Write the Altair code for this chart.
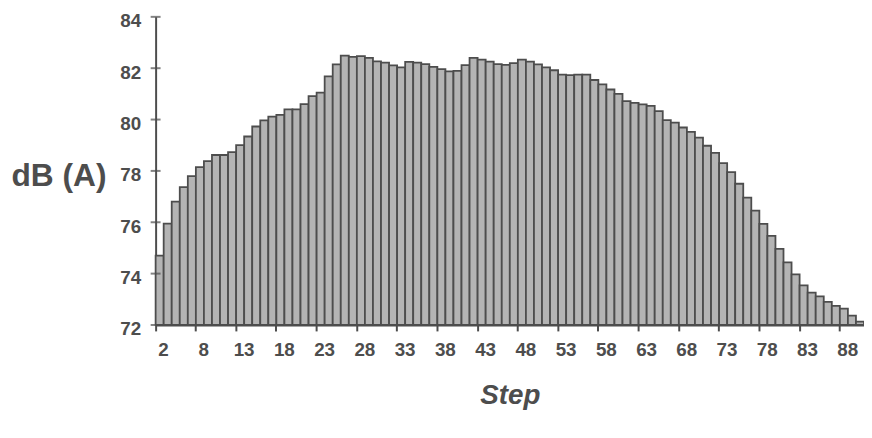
import altair as alt
import pandas as pd

# Step categories (category axis, one bar per step)
steps = [2, 3, 4, 5, 6, 8, 9, 10, 11, 12, 13, 14, 15, 16, 17, 18, 19, 20, 21, 22,
         23, 24, 25, 26, 27, 28, 29, 30, 31, 32, 33, 34, 35, 36, 37, 38, 39, 40, 41, 42,
         43, 44, 45, 46, 47, 48, 49, 50, 51, 52, 53, 54, 55, 56, 57, 58, 59, 60, 61, 62,
         63, 64, 65, 66, 67, 68, 69, 70, 71, 72, 73, 74, 75, 76, 77, 78, 79, 80, 81, 82,
         83, 84, 85, 86, 87, 88, 89, 90]

# Sound level dB(A)
db_values = [74.70, 75.95, 76.80, 77.37, 77.80, 78.15, 78.38, 78.62, 78.62, 78.73,
             79.00, 79.34, 79.73, 79.97, 80.11, 80.18, 80.40, 80.40, 80.60, 80.91,
             81.05, 81.68, 82.15, 82.49, 82.44, 82.47, 82.40, 82.27, 82.22, 82.11,
             82.03, 82.25, 82.22, 82.16, 82.05, 81.96, 81.88, 81.90, 82.12, 82.40,
             82.33, 82.26, 82.16, 82.13, 82.20, 82.33, 82.26, 82.15, 82.03, 81.92,
             81.75, 81.73, 81.75, 81.75, 81.54, 81.37, 81.17, 81.00, 80.72, 80.65,
             80.59, 80.53, 80.33, 79.98, 79.88, 79.69, 79.52, 79.30, 78.98, 78.70,
             78.30, 77.95, 77.50, 76.96, 76.45, 75.94, 75.47, 74.96, 74.44, 73.97,
             73.54, 73.26, 73.11, 72.90, 72.74, 72.64, 72.36, 72.13]

x_tick_labels = [2, 8, 13, 18, 23, 28, 33, 38, 43, 48, 53, 58, 63, 68, 73, 78, 83, 88]
y_ticks = [72, 74, 76, 78, 80, 82, 84]

df = pd.DataFrame({"step": steps, "db": db_values})
ticks_df = pd.DataFrame({"db": y_ticks})

ink = "#4d4d4d"
font = "Liberation Sans"

y_scale = alt.Scale(domain=[72, 84], nice=False, zero=False, clamp=True)

bars = alt.Chart(df).mark_bar(
    fill="#b4b4b4", stroke=ink, strokeWidth=1.8
).encode(
    x=alt.X(
        "step:O", sort=None,
        scale=alt.Scale(paddingInner=0, paddingOuter=0),
        axis=alt.Axis(
            values=x_tick_labels, bandPosition=0, labelOffset=4, labelAngle=0,
            tickSize=6, tickWidth=2, tickColor=ink,
            labelPadding=10, labelFontSize=19,
            title="Step", titleFontSize=28, titleFontStyle="italic",
            titlePadding=22,
        ),
    ),
    y=alt.Y(
        "db:Q", scale=y_scale,
        axis=alt.Axis(
            values=y_ticks, ticks=False, tickSize=0, labelPadding=15,
            labelFontSize=19, labelOffset=4,
            title="dB (A)", titleAngle=0, titleAlign="left",
            titleBaseline="middle", titleX=-146, titleY=160, titleFontSize=32,
        ),
    ),
    y2=alt.datum(72),
)

yticks = alt.Chart(ticks_df).mark_tick(
    color=ink, size=10, thickness=2, orient="horizontal"
).encode(
    y=alt.Y("db:Q", scale=y_scale),
    x=alt.value(0),
)

chart = alt.layer(bars, yticks).properties(
    width=715, height=311,
    autosize=alt.AutoSizeParams(type="none"),
    padding={"left": 149, "top": 7, "right": 0, "bottom": 95},
).configure_view(stroke=None).configure_axis(
    labelFont=font, labelFontWeight="bold", labelColor=ink,
    titleFont=font, titleFontWeight="bold", titleColor=ink,
    domainColor=ink, domainWidth=2, grid=False,
)

chart.save("out.html", embed_options={"renderer": "svg", "actions": False})
